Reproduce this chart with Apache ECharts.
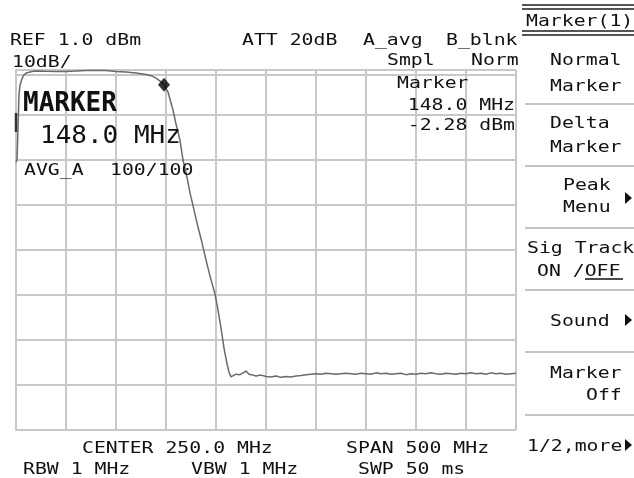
<!DOCTYPE html>
<html><head><meta charset="utf-8">
<script src="https://cdn.jsdelivr.net/npm/echarts@6/dist/echarts.min.js"></script>
<style>html,body{margin:0;padding:0;background:#fff}#c{width:634px;height:478px}</style>
</head><body><div id="c"></div>
<script>
// ---- data (frequency in MHz, level in dBm) ----
const freqMHz = [0,1,2,3,4,6,8,11,16,20,30,40,50,60,70,80,90,100,110,120,130,136,140,144,148,152,157,160,164,167,170,174,178,182,186,190,194,199,202,205,208,211,213,215,217,220,224,227,230,233,237,240,245,250,255,260,265,270,275,280,285,290,295,300,305,310,315,320,325,330,335,340,345,350,355,360,365,370,375,380,385,390,395,400,405,410,415,420,425,430,435,440,445,450,455,460,465,470,475,480,485,490,495,500];
const levelDbm = [-19.5,-19.0,-12.0,-4.5,-2.4,-0.9,-0.1,0.4,0.67,0.78,0.7,0.67,0.67,0.78,0.9,0.93,0.9,0.67,0.55,0.35,0.0,-0.35,-0.8,-1.45,-2.28,-3.9,-7.9,-11.0,-14.6,-19.0,-21.7,-26.3,-30.1,-33.9,-37.4,-41.2,-44.8,-48.8,-52.3,-56.3,-60.8,-64.3,-66.1,-67.2,-67.1,-66.6,-66.7,-66.3,-65.9,-66.6,-66.8,-67.0,-66.8,-67.1,-67.2,-67.0,-67.3,-67.1,-67.2,-67.0,-66.9,-66.7,-66.6,-66.5,-66.6,-66.4,-66.5,-66.6,-66.5,-66.4,-66.5,-66.6,-66.4,-66.5,-66.6,-66.3,-66.5,-66.4,-66.6,-66.5,-66.4,-66.7,-66.5,-66.6,-66.4,-66.5,-66.3,-66.5,-66.6,-66.4,-66.5,-66.6,-66.4,-66.5,-66.3,-66.5,-66.4,-66.6,-66.3,-66.5,-66.4,-66.6,-66.5,-66.4];
const markerPoint = [148.0, -2.28];
const refLevel = 1.0, dbPerDiv = 10, divisions = 8;
const spanStart = 0, spanStop = 500, freqStep = 50;

// ---- texts ----
const headerLabels = ['REF 1.0 dBm','10dB/','ATT 20dB','A_avg','B_blnk','Smpl','Norm'];
const markerReadout = ['Marker','148.0 MHz','-2.28 dBm'];
const bigLabels = ['MARKER','148.0 MHz'];
const avgLabels = ['AVG_A','100/100'];
const menuTitle = 'Marker(1)';
const menuLabels = ['Normal','Marker','Delta','Marker','Peak','Menu','Sig Track','ON /OFF','Sound','Marker','Off','1/2,more'];
const footerLabels = ['CENTER 250.0 MHz','SPAN 500 MHz','RBW 1 MHz','VBW 1 MHz','SWP 50 ms'];

const MONO = '"DejaVu Sans Mono", monospace';
function T(text, x, y, o) {
  o = o || {};
  return { type:'text', x:x, y:y + (o.dy != null ? o.dy : 1.5), scaleX:(o.sx != null ? o.sx : 1.2), z:100,
    style:{ text:text, fill:'#111', font:(o.bold?'bold ':'') + (o.size||16.5) + 'px ' + MONO,
      align:o.align||'left', verticalAlign:'middle' } };
}
function L(x1,y1,x2,y2,c,w){ return {type:'line', z:90, shape:{x1:x1,y1:y1,x2:x2,y2:y2}, style:{stroke:c, lineWidth:w}}; }
function Tri(x,y){ return {type:'polygon', z:100, shape:{points:[[x,y-6],[x+7,y],[x,y+6]]}, style:{fill:'#111'}}; }

const sep = '#c4c4c4';
const graphics = [
  T(headerLabels[0], 10, 39), T(headerLabels[1], 12, 61),
  T(headerLabels[2], 242, 39), T(headerLabels[3], 363, 39), T(headerLabels[4], 446, 39),
  T(headerLabels[5], 387, 59), T(headerLabels[6], 471, 59),
  T(markerReadout[0], 397, 82), T(markerReadout[1], 515, 104, {align:'right'}), T(markerReadout[2], 515, 124, {align:'right'}),
  T(bigLabels[0], 23, 101.5, {size:26, bold:true, sx:1.0, dy:2.5}),
  T(bigLabels[1], 40, 134, {size:25, sx:1.04, dy:2.5}),
  T(avgLabels[0], 24, 169), T(avgLabels[1], 110, 169),
  L(16,113,16,132,'#333',2.5),
  // menu
  L(522,5,634,5,'#555',2), L(522,9,634,9,'#555',2),
  T(menuTitle, 526, 20),
  L(522,31,634,31,'#555',2), L(522,35,634,35,'#555',2),
  T(menuLabels[0], 550, 59), T(menuLabels[1], 550, 85),
  L(525,104,634,104,sep,2),
  T(menuLabels[2], 550, 122), T(menuLabels[3], 550, 146),
  L(525,166,634,166,sep,2),
  T(menuLabels[4], 563, 184), T(menuLabels[5], 563, 206), Tri(625,198),
  L(525,228,634,228,sep,2),
  T(menuLabels[6], 527, 247), T(menuLabels[7], 537, 270),
  L(585,279,623,279,'#111',1.5),
  L(525,290,634,290,sep,2),
  T(menuLabels[8], 550, 320), Tri(625,320),
  L(525,352,634,352,sep,2),
  T(menuLabels[9], 550, 372), T(menuLabels[10], 586, 394),
  L(525,415,634,415,sep,2),
  T(menuLabels[11], 527, 445), Tri(625,445),
  // footer
  T(footerLabels[0], 82, 447), T(footerLabels[1], 346, 447),
  T(footerLabels[2], 23, 468), T(footerLabels[3], 191, 468), T(footerLabels[4], 358, 468)
];

const gridColor = '#c8c8c8';
const chart = echarts.init(document.getElementById('c'), null, {renderer:'canvas'});
chart.setOption({
  backgroundColor:'#fff',
  animation:false,
  grid:{left:16, top:70, width:500, height:360, containLabel:false},
  xAxis:{type:'value', min:spanStart, max:spanStop, interval:freqStep,
    axisLabel:{show:false}, axisTick:{show:false},
    axisLine:{show:true, lineStyle:{color:gridColor, width:2}},
    splitLine:{show:true, lineStyle:{color:gridColor, width:2}}},
  yAxis:{type:'value', min:refLevel - dbPerDiv*divisions, max:refLevel, interval:dbPerDiv,
    axisLabel:{show:false}, axisTick:{show:false},
    axisLine:{show:true, lineStyle:{color:gridColor, width:2}},
    splitLine:{show:true, lineStyle:{color:gridColor, width:2}}},
  series:[
    {type:'line', data:freqMHz.map((f,i)=>[f, levelDbm[i]]), showSymbol:false, z:5,
      lineStyle:{color:'#6a6a6a', width:1.5}},
    {type:'scatter', data:[markerPoint], symbol:'diamond', symbolSize:[12,14], z:6,
      itemStyle:{color:'#000'}}
  ],
  graphic:graphics
});
</script></body></html>
